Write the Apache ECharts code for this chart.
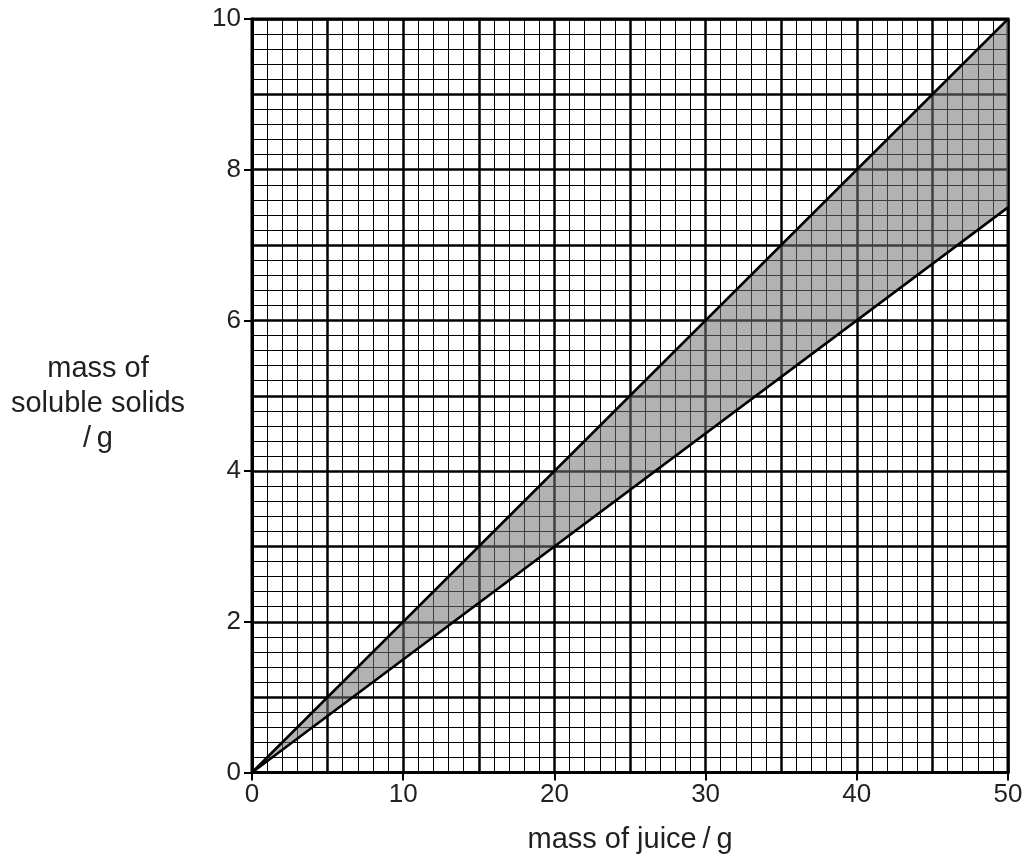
<!DOCTYPE html>
<html>
<head>
<meta charset="utf-8">
<script src="https://cdn.jsdelivr.net/npm/echarts@6/dist/echarts.min.js"></script>
<style>
html,body{margin:0;padding:0;background:#fff;}
#chart{width:1029px;height:859px;}
</style>
</head>
<body>
<div id="chart"></div>
<script>
// Data
const juiceMass = [0, 50];          // mass of juice / g
const upperSolids = [0, 10];        // upper boundary line
const lowerSolids = [0, 7.5];       // lower boundary line
const xRange = [0, 50];
const yRange = [0, 10];
const xTitle = 'mass of juice\u2009/\u2009g';
const yTitle = 'mass of\nsoluble solids\n/\u2009g';

const upperPts = juiceMass.map((x, i) => [x, upperSolids[i]]);
const lowerPts = juiceMass.map((x, i) => [x, lowerSolids[i]]);

const chart = echarts.init(document.getElementById('chart'));
const txt = '#231f20';
const font = 'Liberation Sans, Arial, Helvetica, sans-serif';

chart.setOption({
  animation: false,
  backgroundColor: '#fff',
  grid: { left: 252, top: 19, width: 756, height: 757, show: true, borderColor: '#000', borderWidth: 3, backgroundColor: 'transparent' },
  graphic: [
    {
      type: 'text', x: 98, y: 404,
      style: {
        text: yTitle,
        align: 'center', verticalAlign: 'middle',
        textAlign: 'center', textVerticalAlign: 'middle',
        font: '29px ' + font, lineHeight: 35, fill: txt
      }
    }
  ],
  xAxis: [
    {
      type: 'value', min: xRange[0], max: xRange[1], interval: 10, position: 'bottom',
      name: xTitle, nameLocation: 'middle', nameGap: 67,
      nameTextStyle: { fontSize: 29, color: txt, fontFamily: font, verticalAlign: 'middle' },
      axisLine: { show: true, lineStyle: { color: '#000', width: 3 } },
      axisTick: { show: true, length: 8, lineStyle: { color: '#000', width: 2 } },
      axisLabel: { fontSize: 26, color: txt, fontFamily: font, margin: 9 },
      splitLine: { show: false }
    },
    {
      type: 'value', min: xRange[0], max: xRange[1], interval: 5, position: 'bottom',
      axisLine: { show: false }, axisTick: { show: false }, axisLabel: { show: false },
      splitLine: { show: true, lineStyle: { color: '#000', width: 2.5 } },
      minorTick: { show: false, splitNumber: 5 },
      minorSplitLine: { show: true, lineStyle: { color: '#000', width: 1 } }
    }
  ],
  yAxis: [
    {
      type: 'value', min: yRange[0], max: yRange[1], interval: 2, position: 'left',
      axisLine: { show: true, lineStyle: { color: '#000', width: 3 } },
      axisTick: { show: true, length: 8, lineStyle: { color: '#000', width: 2 } },
      axisLabel: { fontSize: 26, color: txt, fontFamily: font, margin: 11 },
      splitLine: { show: false }
    },
    {
      type: 'value', min: yRange[0], max: yRange[1], interval: 1, position: 'left',
      axisLine: { show: false }, axisTick: { show: false }, axisLabel: { show: false },
      splitLine: { show: true, lineStyle: { color: '#000', width: 2.5 } },
      minorTick: { show: false, splitNumber: 5 },
      minorSplitLine: { show: true, lineStyle: { color: '#000', width: 1 } }
    }
  ],
  series: [
    {
      type: 'custom',
      xAxisIndex: 0, yAxisIndex: 0,
      data: [0],
      renderItem: function (params, api) {
        const pts = upperPts.concat(lowerPts.slice().reverse()).map(p => api.coord(p));
        return {
          type: 'polygon',
          shape: { points: pts },
          style: { fill: 'rgba(115,115,115,0.55)', stroke: null }
        };
      },
      z: 2
    },
    {
      type: 'line', xAxisIndex: 0, yAxisIndex: 0, data: upperPts,
      symbol: 'none', lineStyle: { color: '#000', width: 2.5 }, z: 3
    },
    {
      type: 'line', xAxisIndex: 0, yAxisIndex: 0, data: lowerPts,
      symbol: 'none', lineStyle: { color: '#000', width: 2.5 }, z: 3
    }
  ]
});
</script>
</body>
</html>
